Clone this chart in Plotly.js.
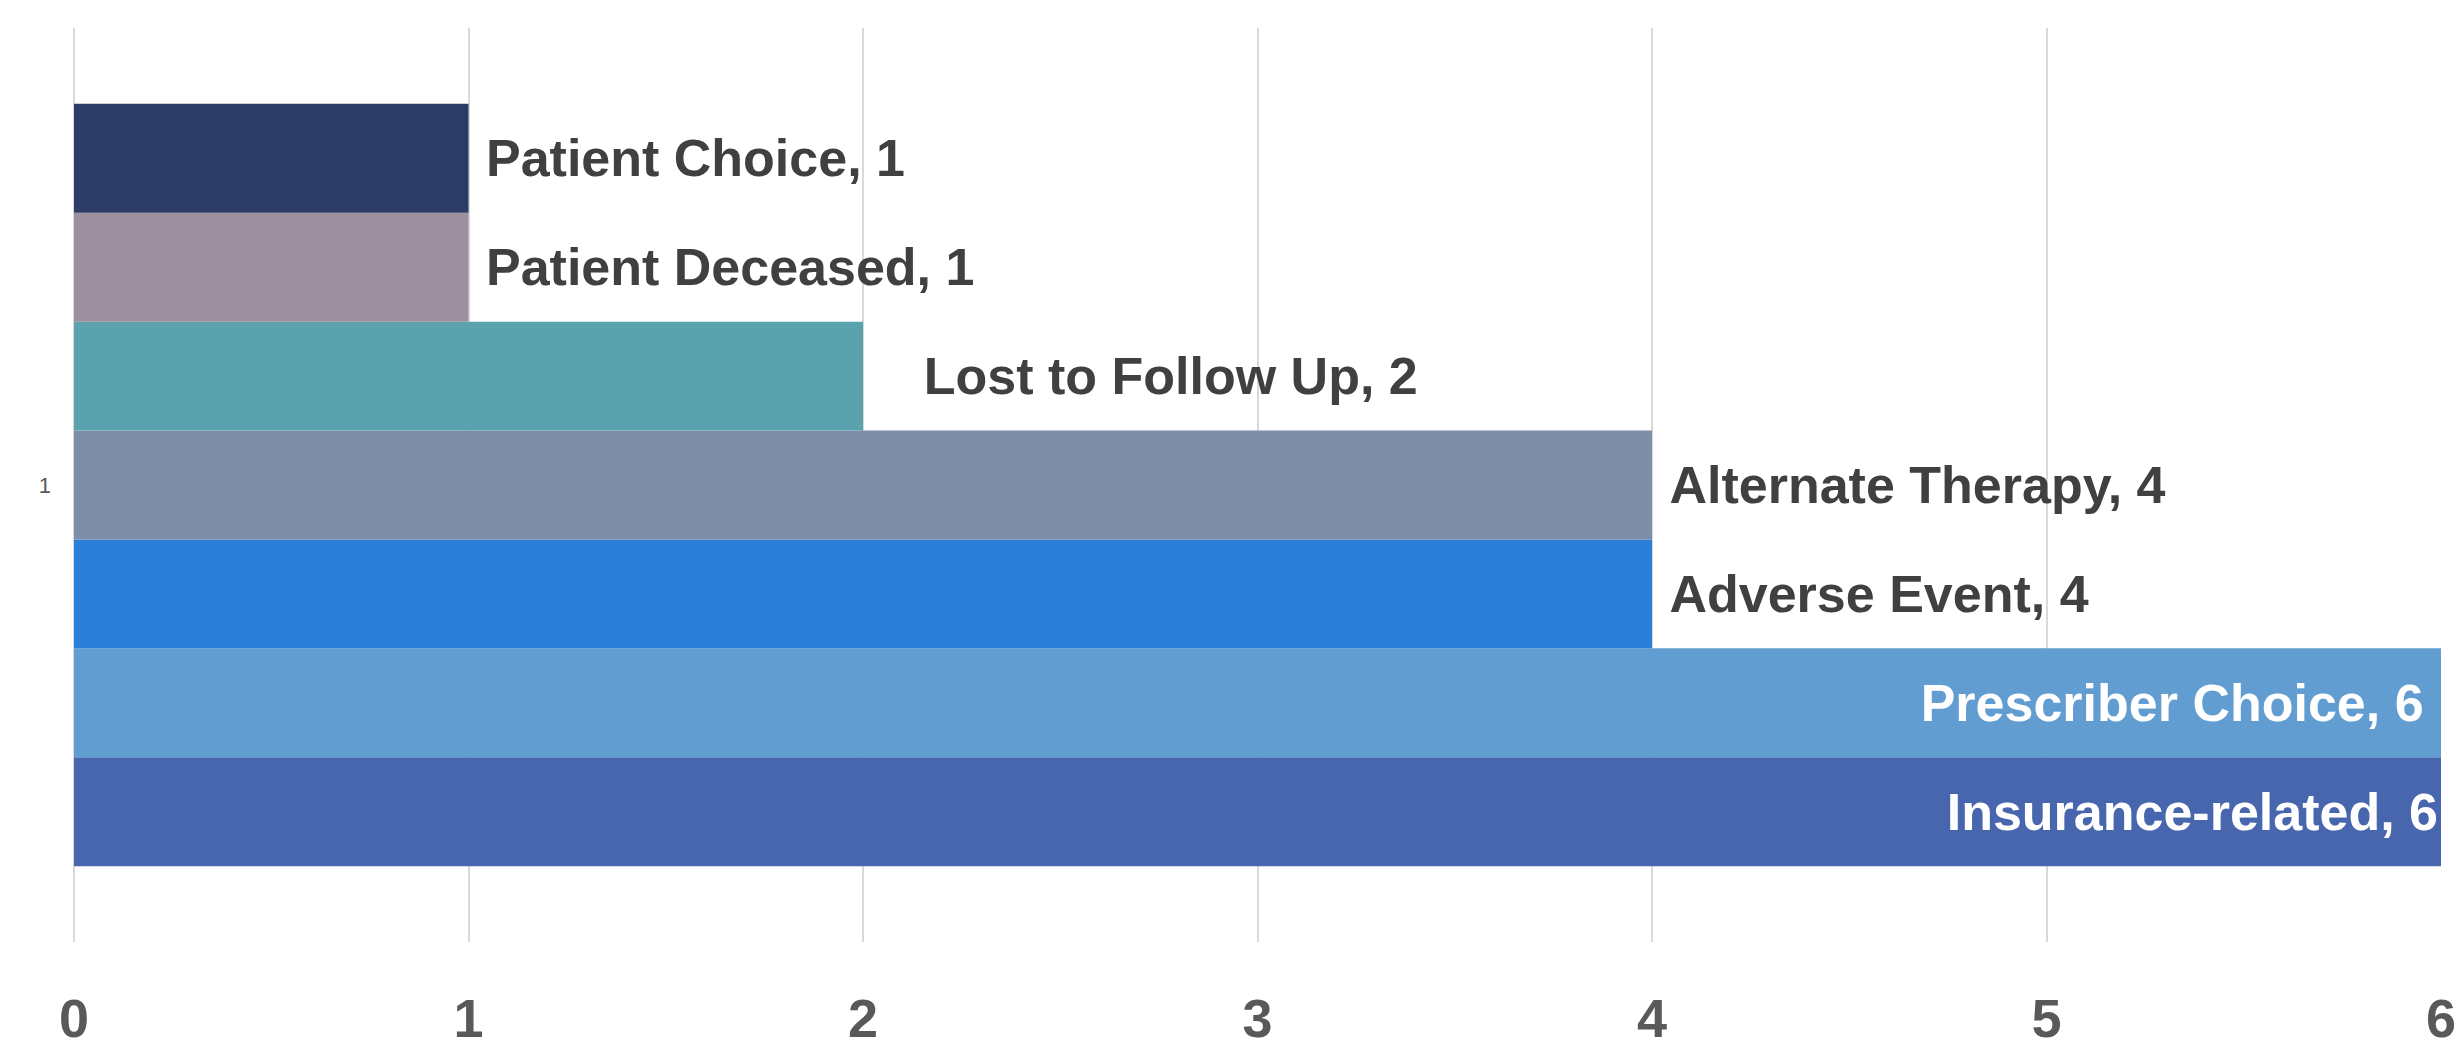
<!DOCTYPE html>
<html>
<head>
<meta charset="utf-8">
<script src="https://cdn.plot.ly/plotly-3.0.1.min.js"></script>
<style>html,body{margin:0;padding:0;background:#fff;}#chart{width:2463px;height:1052px;}</style>
</head>
<body>
<div id="chart"></div>
<script>
// Series listed bottom to top
const categories = ["1"];
const seriesNames = ["Insurance-related", "Prescriber Choice", "Adverse Event", "Alternate Therapy", "Lost to Follow Up", "Patient Deceased", "Patient Choice"];
const seriesValues = [6, 6, 4, 4, 2, 1, 1];
const seriesColors = ["#4866AD", "#619DD1", "#2A7FD8", "#7F8EA8", "#5AA3AE", "#9D8F9F", "#2D3C67"];
const xTicks = [0, 1, 2, 3, 4, 5, 6];

// label spacing (presentation only): number of non-breaking spaces before/after a label
const leadPad = {"Lost to Follow Up": 3};
const trailPad = {"Prescriber Choice": 1};
const NB = "\u00a0";

const maxVal = Math.max(...seriesValues);
const traces = seriesNames.map((name, i) => {
  const inside = seriesValues[i] === maxVal;
  const lead = inside ? "" : NB.repeat(1 + (leadPad[name] || 0));
  const trail = NB.repeat(trailPad[name] || 0);
  return {
    type: "bar",
    orientation: "h",
    name: name,
    y: categories,
    x: [seriesValues[i]],
    marker: {color: seriesColors[i], line: {width: 0}},
    text: [lead + name + ", " + seriesValues[i] + trail],
    textposition: inside ? "inside" : "outside",
    insidetextanchor: "end",
    constraintext: "none",
    cliponaxis: false,
    textfont: {family: "Liberation Sans, Arial, sans-serif", size: 52, color: inside ? "#FFFFFF" : "#404040", weight: "bold"},
    hoverinfo: "skip"
  };
});

const layout = {
  width: 2463,
  height: 1052,
  margin: {l: 74, r: 22, t: 28, b: 110},
  paper_bgcolor: "#ffffff",
  plot_bgcolor: "#ffffff",
  barmode: "group",
  bargap: 0.166,
  bargroupgap: 0,
  showlegend: false,
  xaxis: {
    range: [0, 6],
    tickvals: xTicks,
    ticktext: xTicks.map(String),
    showgrid: true,
    gridcolor: "#D9D9D9",
    gridwidth: 2,
    zeroline: true,
    zerolinecolor: "#D9D9D9",
    zerolinewidth: 2,
    showline: false,
    ticks: "",
    ticklabelstandoff: 40,
    tickfont: {family: "Liberation Sans, Arial, sans-serif", size: 54, color: "#595959", weight: "bold"}
  },
  yaxis: {
    type: "category",
    range: [-0.5, 0.5],
    showgrid: false,
    zeroline: false,
    showline: false,
    ticks: "",
    ticklabelstandoff: 22,
    tickfont: {family: "Liberation Sans, Arial, sans-serif", size: 22, color: "#595959"}
  }
};

Plotly.newPlot("chart", traces, layout, {displayModeBar: false, staticPlot: true});
</script>
</body>
</html>
